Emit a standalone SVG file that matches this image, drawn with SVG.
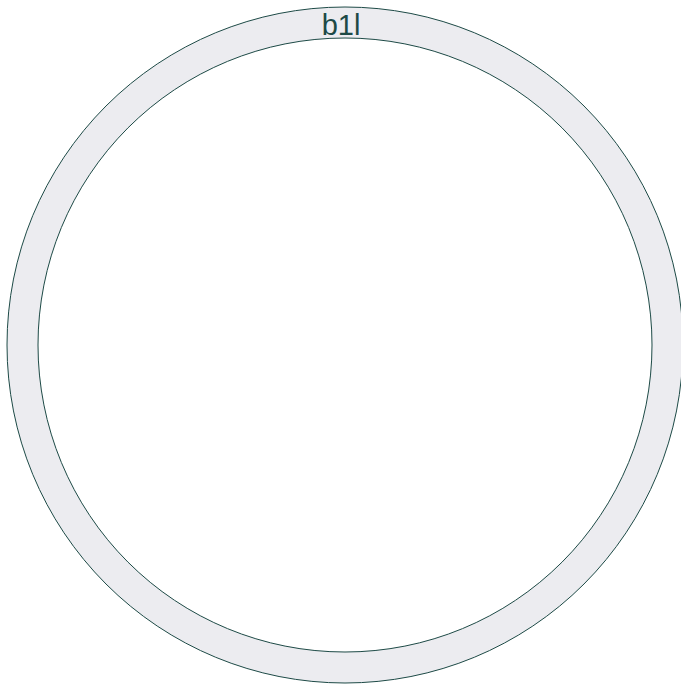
<svg xmlns="http://www.w3.org/2000/svg" width="681" height="684" viewBox="0 0 681 684">
<style>
.ring{fill:#ececf0;stroke:#1d4a46;stroke-width:1}
.inner{fill:#ffffff;stroke:#1d4a46;stroke-width:1}
</style>
<rect width="681" height="684" fill="#ffffff"/>
<g id="b1l">
<circle class="ring" cx="345" cy="345" r="338"/>
<circle class="inner" cx="345" cy="345" r="307"/>
<text x="341" y="35" font-family="Liberation Sans, Arial, Helvetica, sans-serif" font-size="29" fill="#1d4a46" text-anchor="middle">b1l</text>
</g>
<g id="connectors"/>
</svg>
